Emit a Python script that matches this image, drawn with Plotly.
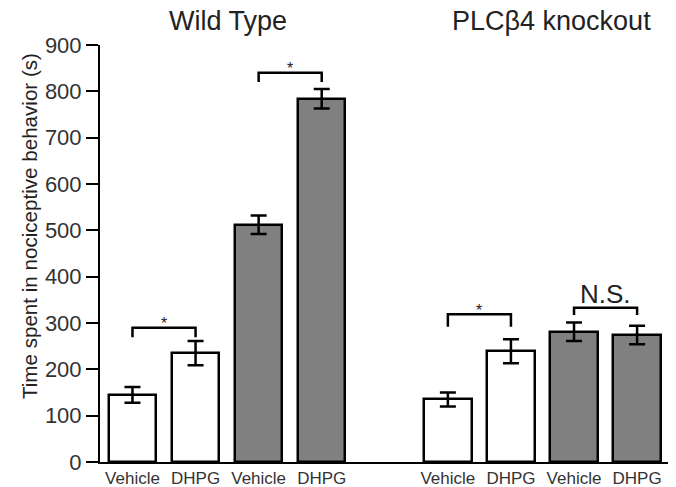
import plotly.graph_objects as go

# ---- data ----
groups = ["Wild Type", "PLCβ4 knockout"]
conditions = ["Vehicle", "DHPG", "Vehicle", "DHPG"]
wt_means = [145, 235, 512, 784]
wt_errors = [17, 26, 20, 21]
ko_means = [135, 239, 281, 274]
ko_errors = [15, 26, 20, 20]
fills = ["white", "white", "#808080", "#808080"]

# significance brackets: (bar index a, bar index b), top value, leg end value, label, label centre value
bracket_pairs = [(0, 1), (2, 3), (4, 5), (6, 7)]
bracket_top = [290, 840, 319, 333]
bracket_leg = [269, 820, 292, 317]
bracket_label = ["*", "*", "*", "N.S."]
label_value = [308, 858, 336, 369]

y_ticks = [0, 100, 200, 300, 400, 500, 600, 700, 800, 900]

# ---- build ----
means = wt_means + ko_means
errors = wt_errors + ko_errors
labels = conditions + conditions
colors = fills + fills
xpos = [i + (1 if i >= 4 else 0) for i in range(len(means))]

fig = go.Figure()
fig.add_trace(go.Bar(
    x=xpos, y=means, width=0.75,
    marker=dict(color=colors, line=dict(color="black", width=2.5)),
    error_y=dict(type="data", array=errors, visible=True,
                 color="black", thickness=2.5, width=8),
    showlegend=False, hoverinfo="skip",
))

for (a, b), top, leg, lab, lv in zip(bracket_pairs, bracket_top, bracket_leg,
                                     bracket_label, label_value):
    xa, xb = xpos[a], xpos[b]
    fig.add_trace(go.Scatter(
        x=[xa, xa, xb, xb], y=[leg, top, top, leg], mode="lines",
        line=dict(color="black", width=2.5), showlegend=False,
        hoverinfo="skip",
    ))
    big = lab != "*"
    fig.add_annotation(
        x=(xa + xb) / 2, y=lv, xref="x", yref="y", text=lab,
        showarrow=False, xanchor="center", yanchor="middle",
        font=dict(size=26 if big else 16, color="#222"),
        yshift=-3 if big else -4,
    )

# group titles
fig.add_annotation(x=0.2245, y=1.057, xref="paper", yref="paper",
                   text=groups[0], showarrow=False,
                   xanchor="center", yanchor="middle",
                   font=dict(size=27, color="#222"))
fig.add_annotation(x=0.795, y=1.057, xref="paper", yref="paper",
                   text=groups[1], showarrow=False,
                   xanchor="center", yanchor="middle",
                   font=dict(size=27, color="#222"))

# y title
fig.add_annotation(x=-0.124, y=0.5647, xref="paper", yref="paper",
                   text="Time spent in nociceptive behavior (s)",
                   textangle=-90, showarrow=False,
                   xanchor="center", yanchor="middle",
                   font=dict(size=20.6, color="#222"))

fig.update_layout(
    width=676, height=487,
    margin=dict(l=100, r=8, t=45, b=25),
    plot_bgcolor="white", paper_bgcolor="white",
    font=dict(family="Liberation Sans, Arial, sans-serif", color="#222"),
    bargap=0,
)
fig.update_xaxes(
    range=[-0.515, 8.49], tickvals=xpos, ticktext=labels,
    showline=True, linecolor="black", linewidth=2,
    ticks="", showgrid=False, zeroline=False, automargin=False,
    tickfont=dict(size=17, color="#333"),
)
fig.update_yaxes(
    range=[0, 900], tickvals=y_ticks,
    showline=True, linecolor="black", linewidth=2,
    ticks="outside", ticklen=12, tickwidth=2, tickcolor="black",
    showgrid=False, zeroline=False, automargin=False,
    tickfont=dict(size=22, color="#333"),
)

# remove the page's default 8px body margin so the figure fills the window
fig.write_html("out.html",
               config={"displayModeBar": False},
               post_script="document.body.style.margin='0';"
                           "document.body.style.overflow='hidden';")
